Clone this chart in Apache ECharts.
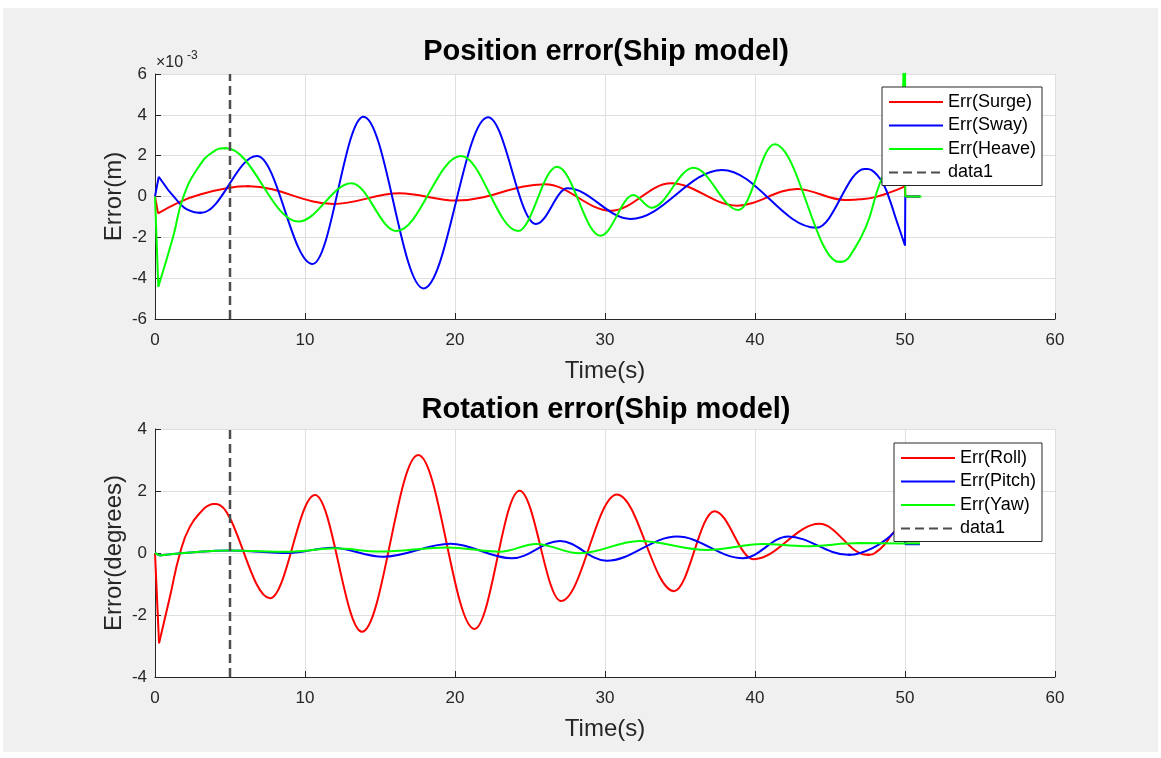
<!DOCTYPE html>
<html><head><meta charset="utf-8">
<script src="https://cdn.jsdelivr.net/npm/echarts@6/dist/echarts.min.js"></script>
<style>
html,body{margin:0;padding:0;background:#fff;overflow:hidden;}
#bg{position:absolute;left:3px;top:8px;width:1155px;height:744px;background:#f0f0f0;}
#chart{position:absolute;left:0;top:0;width:1161px;height:758px;}
</style></head><body>
<div id="bg"></div><div id="chart"></div>
<script>
// ---------------- data ----------------
// Top plot: position error, values in units of 1e-3 m (axis shows x10^-3)
const surgeT = [0, 0.2, 1.7, 3.0, 5.0, 6.1, 6.2, 6.3, 11.9, 16.3, 20.1, 26.0, 30.4, 34.4, 38.8, 42.8, 46.0, 46.1, 46.2, 47.0, 48.0, 49.0, 50.0, 50.02, 51.0];
const surgeV = [0, -0.83, -0.25, 0.1, 0.43, 0.5, 0.5, 0.5, -0.37, 0.16, -0.2, 0.6, -0.7, 0.65, -0.45, 0.37, -0.17, -0.17, -0.17, -0.14, -0.03, 0.2, 0.5, 0, 0];
const swayT = [0, 0.25, 1.6, 2.4, 2.9, 3.0, 3.1, 6.8, 10.5, 13.9, 17.9, 22.2, 25.4, 27.5, 31.7, 37.8, 44.1, 47.3, 47.4, 47.5, 47.8, 48.2, 48.6, 49.0, 49.4, 49.7, 50.0, 50.02, 51.0];
const swayV = [0, 0.97, -0.3, -0.72, -0.79, -0.79, -0.79, 1.98, -3.31, 3.91, -4.5, 3.88, -1.35, 0.4, -1.1, 1.3, -1.53, 1.35, 1.35, 1.35, 1.28, 1.0, 0.55, -0.2, -1.1, -1.75, -2.4, 0, 0];
const heaveT = [0, 0.22, 1.2, 1.9, 3.0, 3.9, 4.57, 4.67, 4.77, 9.55, 13.1, 16.1, 20.4, 24.2, 26.8, 29.7, 31.9, 33.1, 35.9, 38.9, 41.3, 45.6, 45.7, 45.8, 46.0, 46.3, 47.4, 48.3, 49.2, 49.8, 50.0, 50.02, 51.1];
const heaveV = [0, -4.42, -2.0, 0, 1.55, 2.2, 2.36, 2.36, 2.36, -1.23, 0.65, -1.69, 1.98, -1.69, 1.46, -1.92, 0.07, -0.55, 1.41, -0.66, 2.56, -3.2, -3.2, -3.2, -3.15, -2.95, -1.48, 0.6, 2.0, 3.2, 9, 0, 0];

// Bottom plot: rotation error, degrees
const rollT = [0, 0.27, 1.0, 1.67, 2.33, 3.2, 3.6, 3.9, 4.0, 4.1, 7.67, 10.67, 13.8, 17.55, 21.3, 24.3, 27.07, 30.8, 34.6, 37.3, 39.9, 44.3, 47.45, 47.55, 47.65, 48.0, 48.6, 49.2, 50.0, 50.02, 51.0];
const rollV = [0, -2.91, -1.4, 0, 0.85, 1.4, 1.54, 1.58, 1.58, 1.58, -1.46, 1.87, -2.54, 3.16, -2.45, 2.01, -1.55, 1.89, -1.23, 1.35, -0.2, 0.94, -0.06, -0.06, -0.06, 0.0, 0.25, 0.64, 1.0, 0.3, 0.3];
const pitchT = [0, 0.3, 5.0, 8.9, 11.8, 15.2, 19.7, 23.8, 27.0, 30.1, 34.8, 39.2, 42.2, 46.2, 46.3, 46.4, 47.0, 47.8, 48.5, 49.2, 50.0, 50.02, 51.0];
const pitchV = [0, -0.08, 0.08, 0.0, 0.17, -0.12, 0.3, -0.17, 0.39, -0.25, 0.53, -0.17, 0.53, -0.06, -0.06, -0.06, 0.0, 0.15, 0.35, 0.63, 1.0, 0.28, 0.28];
const yawT = [0, 0.3, 5.0, 9.0, 12.0, 15.0, 19.5, 23.0, 25.4, 28.3, 32.3, 36.8, 40.5, 43.3, 47.0, 50.0, 51.0];
const yawV = [0, -0.08, 0.08, 0.04, 0.15, 0.05, 0.18, 0.04, 0.29, -0.01, 0.39, 0.1, 0.29, 0.22, 0.32, 0.31, 0.31];

// vertical dashed marker "data1"
const markerT = 5;

// axes / labels
const xTicks = {min: 0, max: 60, interval: 10};
const yTop = {min: -6, max: 6, interval: 2};
const yBottom = {min: -4, max: 4, interval: 2};
const titles = ['Position error(Ship model)', 'Rotation error(Ship model)'];
const yNames = ['Error(m)', 'Error(degrees)'];
const xName = 'Time(s)';
const topNames = ['Err(Surge)', 'Err(Sway)', 'Err(Heave)', 'data1'];
const bottomNames = ['Err(Roll)', 'Err(Pitch)', 'Err(Yaw)', 'data1'];

// ---------------- chart ----------------
const FONT = '"Liberation Sans", Arial, Helvetica, sans-serif';
const AX = '#262626';
const GRIDC = '#dfdfdf';
const RED = '#ff0000', BLUE = '#0000ff', GREEN = '#00ff00', DASH = '#4d4d4d';

function pairs(T, V, a, b) { const out = []; for (let k = a; k <= b; k++) out.push([T[k], V[k]]); return out; }
// pieces of a curve: [drawing mode, from time, to time]
function curve(name, color, T, V, segs, gi) {
  const base = {type: 'line', name: name, xAxisIndex: gi, yAxisIndex: gi, symbol: 'none', showSymbol: false,
    clip: true, color: color, lineStyle: {color: color, width: 2}, emphasis: {disabled: true}, animation: false};
  return segs.map(sg => {
    const a = T.indexOf(sg[1]), b = T.indexOf(sg[2]);
    const o = Object.assign({}, base, {data: pairs(T, V, a, b)});
    if (sg[0] === 'line') o.smooth = false;
    else if (sg[0] === 'smooth') o.smooth = 0.5;
    else { o.smooth = 0.36; o.smoothMonotone = 'x'; }
    return o;
  });
}
function marker(gi, yr) {
  return {type: 'line', name: 'data1', xAxisIndex: gi, yAxisIndex: gi, symbol: 'none', showSymbol: false,
    color: DASH, lineStyle: {color: DASH, width: 2.5, type: [9, 5]}, emphasis: {disabled: true}, animation: false,
    data: [[markerT, yr.min], [markerT, yr.max]]};
}
function xAxisCfg(gi) {
  return {type: 'value', gridIndex: gi, min: xTicks.min, max: xTicks.max, interval: xTicks.interval,
    name: xName, nameLocation: 'middle', nameGap: 40,
    nameTextStyle: {fontSize: 24, color: AX, fontFamily: FONT},
    axisLine: {show: true, onZero: false, lineStyle: {color: AX, width: 1}},
    axisTick: {show: true, inside: true, length: 6, lineStyle: {color: AX}},
    axisLabel: {fontSize: 17, color: AX, margin: 13, fontFamily: FONT},
    splitLine: {show: true, lineStyle: {color: GRIDC, width: 1}}};
}
function yAxisCfg(gi, yr, nm) {
  return {type: 'value', gridIndex: gi, min: yr.min, max: yr.max, interval: yr.interval,
    name: nm, nameLocation: 'middle', nameGap: 29, nameMoveOverlap: false,
    nameTextStyle: {fontSize: 24, color: AX, fontFamily: FONT},
    axisLine: {show: true, onZero: false, lineStyle: {color: AX, width: 1}},
    axisTick: {show: true, inside: true, length: 6, lineStyle: {color: AX}},
    axisLabel: {fontSize: 17, color: AX, margin: 8, fontFamily: FONT},
    splitLine: {show: true, lineStyle: {color: GRIDC, width: 1}}};
}
function legendCfg(names, left, top) {
  return {data: names, left: left, top: top, orient: 'vertical', selectedMode: false,
    backgroundColor: '#ffffff', borderColor: AX, borderWidth: 1, borderRadius: 0,
    padding: [6, 6, 4, 6], itemWidth: 54, itemHeight: 14, itemGap: 5.5,
    itemStyle: {opacity: 0},
    textStyle: {fontSize: 18, color: '#000', fontFamily: FONT, lineHeight: 18}};
}

const series = [].concat(
  curve(topNames[0], RED, surgeT, surgeV,
    [['line', 0, 0.2], ['smooth', 0.2, 6.3], ['mono', 6.1, 46.2], ['smooth', 46.0, 50.0], ['line', 50.0, 51.0]], 0),
  curve(topNames[1], BLUE, swayT, swayV,
    [['line', 0, 0.25], ['smooth', 0.25, 3.1], ['mono', 2.9, 47.5], ['smooth', 47.3, 50.0], ['line', 50.0, 51.0]], 0),
  curve(topNames[2], GREEN, heaveT, heaveV,
    [['line', 0, 0.22], ['smooth', 0.22, 4.77], ['mono', 4.57, 45.8], ['smooth', 45.6, 49.8], ['line', 49.8, 51.1]], 0),
  [marker(0, yTop)],
  curve(bottomNames[0], RED, rollT, rollV,
    [['line', 0, 0.27], ['smooth', 0.27, 4.1], ['mono', 3.9, 47.65], ['smooth', 47.45, 50.0], ['line', 50.0, 51.0]], 1),
  curve(bottomNames[1], BLUE, pitchT, pitchV,
    [['line', 0, 0.3], ['mono', 0.3, 46.4], ['smooth', 46.2, 50.0], ['line', 50.0, 51.0]], 1),
  curve(bottomNames[2], GREEN, yawT, yawV,
    [['line', 0, 0.3], ['mono', 0.3, 50.0], ['line', 50.0, 51.0]], 1),
  [marker(1, yBottom)]
);

const option = {
  backgroundColor: 'transparent',
  animation: false,
  textStyle: {fontFamily: FONT},
  grid: [
    {left: 155, top: 74, width: 900, height: 245, show: true, backgroundColor: '#ffffff', borderWidth: 0, containLabel: false},
    {left: 155, top: 429, width: 900, height: 248, show: true, backgroundColor: '#ffffff', borderWidth: 0, containLabel: false}
  ],
  xAxis: [xAxisCfg(0), xAxisCfg(1)],
  yAxis: [yAxisCfg(0, yTop, yNames[0]), yAxisCfg(1, yBottom, yNames[1])],
  legend: [legendCfg(topNames, 882, 87), legendCfg(bottomNames, 894, 443)],
  graphic: [
    {type: 'text', x: 606, y: 52, style: {text: titles[0], align: 'center', verticalAlign: 'middle', fill: '#000', font: 'bold 29px ' + FONT}},
    {type: 'text', x: 606, y: 410, style: {text: titles[1], align: 'center', verticalAlign: 'middle', fill: '#000', font: 'bold 29px ' + FONT}},
    {type: 'text', x: 156, y: 63, style: {text: '\u00d710', align: 'left', verticalAlign: 'middle', fill: AX, font: '16px ' + FONT}},
    {type: 'text', x: 187, y: 56, style: {text: '-3', align: 'left', verticalAlign: 'middle', fill: AX, font: '12px ' + FONT}}
  ],
  series: series
};

const chart = echarts.init(document.getElementById('chart'), null, {renderer: 'canvas'});
chart.setOption(option);
</script>
</body></html>
